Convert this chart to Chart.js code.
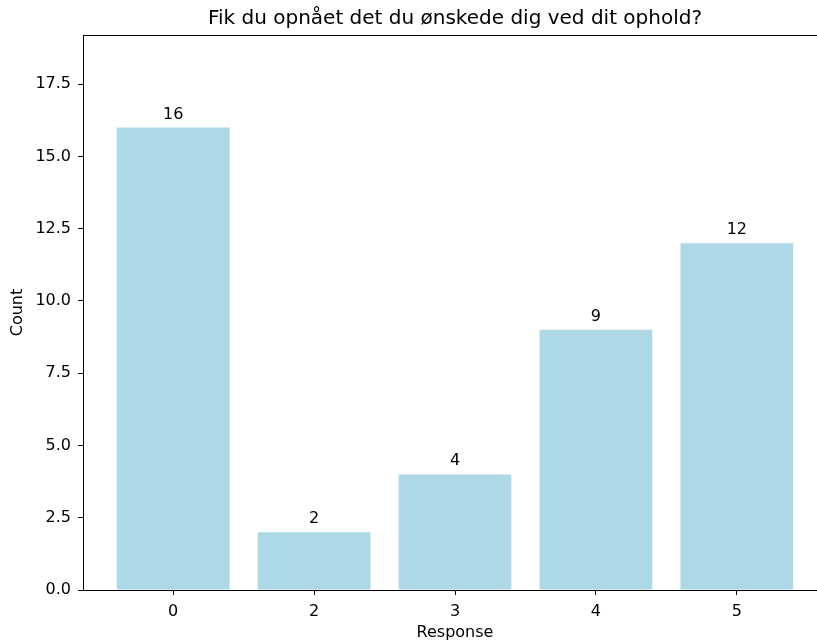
<!DOCTYPE html>
<html>
<head>
<meta charset="utf-8">
<script src="https://cdn.jsdelivr.net/npm/chart.js@4/dist/chart.umd.min.js"></script>
<style>
  html, body { margin: 0; padding: 0; background: #fff; overflow: hidden; }
  /* the plot's right spine sits just past the picture's edge, so the canvas is a bit wider than the window */
  #wrap { width: 817px; height: 642px; overflow: hidden; position: relative; }
  #chart { position: absolute; left: 0; top: 0; }
</style>
</head>
<body>
<div id="wrap"><canvas id="chart" width="840" height="642"></canvas></div>
<script>
// values
const categories = ['0', '2', '3', '4', '5'];
const counts = [16, 2, 4, 9, 12];
const chartTitle = 'Fik du opnået det du ønskede dig ved dit ophold?';
const xLabel = 'Response';
const yLabel = 'Count';

const FONT = 'DejaVu Sans';

// draws the top/right spines and the count above each bar
const extras = {
  id: 'extras',
  afterDatasetsDraw(chart) {
    const {ctx, chartArea: a} = chart;
    ctx.save();
    ctx.strokeStyle = '#000';
    ctx.lineWidth = 1;
    ctx.beginPath();
    ctx.moveTo(a.left, a.top + 0.5);
    ctx.lineTo(a.right, a.top + 0.5);
    ctx.lineTo(a.right - 0.5, a.bottom);
    ctx.stroke();

    ctx.fillStyle = '#000';
    ctx.font = '16px "' + FONT + '"';
    ctx.textAlign = 'center';
    ctx.textBaseline = 'alphabetic';
    chart.getDatasetMeta(0).data.forEach((bar, i) => {
      ctx.fillText(String(counts[i]), bar.x, bar.y - 9);
    });
    ctx.restore();
  }
};

new Chart(document.getElementById('chart'), {
  type: 'bar',
  data: {
    datasets: [{
      data: counts.map((c, i) => ({x: i, y: c})),
      backgroundColor: '#ADD8E6',
      borderWidth: 0,
      barPercentage: 0.8,
      categoryPercentage: 1
    }]
  },
  options: {
    responsive: false,
    animation: false,
    layout: { padding: { left: 0, right: 13, top: 0, bottom: 0 } },
    plugins: {
      legend: { display: false },
      tooltip: { enabled: false },
      title: {
        display: true,
        text: chartTitle,
        fullSize: false,
        color: '#000',
        font: { family: FONT, size: 20, weight: 'normal' },
        padding: { top: 7, bottom: 4 }
      }
    },
    scales: {
      x: {
        type: 'linear',
        min: -0.64,
        max: 4.64,
        offset: false,
        grid: { offset: false, drawOnChartArea: false, drawTicks: true, tickLength: 5, color: '#000' },
        border: { color: '#000', width: 1 },
        ticks: {
          stepSize: 1,
          includeBounds: false,
          autoSkip: false,
          maxRotation: 0,
          padding: 7,
          color: '#000',
          font: { family: FONT, size: 16 },
          callback: v => Number.isInteger(v) ? categories[v] : ''
        },
        title: {
          display: true, text: xLabel, color: '#000',
          font: { family: FONT, size: 16 },
          padding: { top: 0, bottom: 0 }
        },
        afterFit: s => { s.height = 52; }
      },
      y: {
        min: 0,
        max: 19.2,
        grid: { drawOnChartArea: false, drawTicks: true, tickLength: 5, color: '#000' },
        border: { color: '#000', width: 1 },
        ticks: {
          stepSize: 2.5,
          includeBounds: false,
          padding: 7,
          color: '#000',
          font: { family: FONT, size: 16 },
          callback: v => v.toFixed(1)
        },
        title: {
          display: true, text: yLabel, color: '#000',
          font: { family: FONT, size: 16 },
          padding: { top: 8, bottom: 0 }
        },
        afterFit: s => { s.width = 83; }
      }
    }
  },
  plugins: [extras]
});
</script>
</body>
</html>
